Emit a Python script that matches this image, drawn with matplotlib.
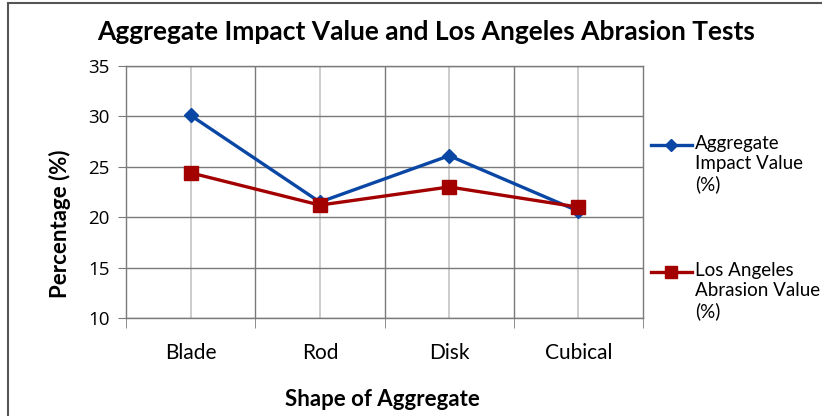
import matplotlib

matplotlib.use("Agg")
import matplotlib.pyplot as plt
from matplotlib.lines import Line2D
from matplotlib.patches import Rectangle

shapes = ["Blade", "Rod", "Disk", "Cubical"]
impact_value = [30.1, 21.5, 26.1, 20.6]
abrasion_value = [24.4, 21.2, 23.0, 21.0]
y_ticks = [10, 15, 20, 25, 30, 35]

BLUE = "#0A47A5"
RED = "#A30000"
GRID_DARK = "#7a7a7a"
GRID_LIGHT = "#c4c4c4"

plt.rcParams["font.family"] = ["Lato", "DejaVu Sans"]

fig = plt.figure(figsize=(8.22, 4.16), dpi=100)
ax = fig.add_axes([126 / 822, 1 - 318 / 416, 517 / 822, 252 / 416])

x = list(range(len(shapes)))

# gridlines: light at category centres, dark at boundaries and y ticks
for xi in x:
    ax.axvline(xi, color=GRID_LIGHT, lw=1.2, zorder=0)
for b in [0.5, 1.5, 2.5]:
    ax.axvline(b, color=GRID_DARK, lw=1.0, zorder=0)
for yt in y_ticks:
    ax.axhline(yt, color=GRID_DARK, lw=1.0, zorder=0)

ax.plot(x, impact_value, color=BLUE, lw=2.4, marker="D", markersize=7,
        markerfacecolor=BLUE, markeredgecolor=BLUE, zorder=3)
ax.plot(x, abrasion_value, color=RED, lw=2.4, marker="s", markersize=10,
        markerfacecolor=RED, markeredgecolor=RED, zorder=4)

ax.set_xlim(-0.5, len(shapes) - 0.5)
ax.set_ylim(10, 35)
ax.set_yticks(y_ticks)
ax.set_xticks(x)
ax.set_xticklabels(shapes)
ax.set_xticks([b - 0.5 for b in range(len(shapes) + 1)], minor=True)
ax.tick_params(axis="x", which="major", length=0, pad=18, labelsize=15)
ax.tick_params(axis="x", which="minor", length=7, color=GRID_DARK, direction="out")
ax.tick_params(axis="y", length=6, color=GRID_DARK, labelsize=13.5, pad=6)
for lab in ax.get_yticklabels():
    lab.set_family(["Open Sans", "DejaVu Sans"])
for s in ax.spines.values():
    s.set_color(GRID_DARK)
    s.set_linewidth(1.0)

fig.text(382 / 822, 1 - 400 / 416, "Shape of Aggregate", ha="center", va="center",
         fontsize=16, fontweight="bold")
fig.text(60 / 822, 1 - 224 / 416, "Percentage (%)", ha="center", va="center",
         rotation=90, fontsize=16, fontweight="bold")
fig.text(426 / 822, 1 - 32 / 416, "Aggregate Impact Value and Los Angeles Abrasion Tests",
         ha="center", va="center", fontsize=19, fontweight="bold")

# legend drawn by hand so the handle lines up with the first text line
legend_items = [
    ("Aggregate\nImpact Value\n(%)", BLUE, "D", 6, 145),
    ("Los Angeles\nAbrasion Value\n(%)", RED, "s", 9, 272),
]
for text, color, marker, ms, ypix in legend_items:
    yf = 1 - ypix / 416
    fig.add_artist(Line2D([651 / 822, 692 / 822], [yf, yf], color=color, lw=2.4,
                          transform=fig.transFigure))
    fig.add_artist(Line2D([671 / 822], [yf], color=color, marker=marker, markersize=ms,
                          transform=fig.transFigure))
    fig.text(695 / 822, yf + 10 / 416, text, ha="left", va="top", fontsize=13.5,
             linespacing=1.22)

# outer chart frame (runs off the right and bottom edges)
fig.add_artist(Rectangle((8 / 822, -0.05), 1.0, 1 - 3 / 416 + 0.05,
                         transform=fig.transFigure, fill=False,
                         edgecolor="#555555", lw=1.5))

fig.savefig("out.png", dpi=100)
